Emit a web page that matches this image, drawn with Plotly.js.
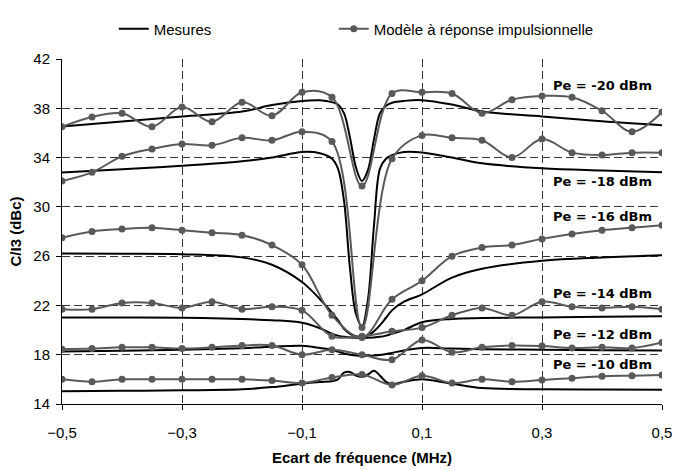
<!DOCTYPE html>
<html>
<head>
<meta charset="utf-8">
<script src="https://cdn.plot.ly/plotly-3.0.1.min.js"></script>
<style>html,body{margin:0;padding:0;background:#fff;}#chart{width:674px;height:470px;}</style>
</head>
<body>
<div id="chart"></div>
<script>
// Model ("Modèle à réponse impulsionnelle") sampled every 0.05 MHz
var xModel = [-0.5,-0.45,-0.4,-0.35,-0.3,-0.25,-0.2,-0.15,-0.1,-0.05,0,0.05,0.1,0.15,0.2,0.25,0.3,0.35,0.4,0.45,0.5];
var model20 = [36.5,37.3,37.6,36.5,38.1,36.9,38.5,37.4,39.3,38.9,31.7,39.2,39.3,39.2,37.6,38.7,39.0,38.9,37.8,36.1,37.7];
var model18 = [32.1,32.8,34.1,34.7,35.1,35.0,35.6,35.4,36.1,35.3,20.2,33.9,35.8,35.6,35.4,34.0,35.5,34.4,34.2,34.4,34.4];
var model16 = [27.5,28.0,28.2,28.3,28.1,27.9,27.7,26.9,25.3,21.2,19.4,22.5,24.0,26.0,26.7,26.9,27.4,27.8,28.1,28.3,28.5];
var model14 = [21.7,21.7,22.2,22.2,21.8,22.3,21.7,21.9,21.6,19.5,19.5,19.9,20.2,21.2,21.8,21.2,22.3,21.9,21.8,21.9,21.7];
var model12 = [18.45,18.5,18.6,18.6,18.5,18.6,18.75,18.75,18.0,18.4,18.0,17.6,19.2,18.2,18.6,18.75,18.7,18.55,18.6,18.55,19.0];
var model10 = [16.0,15.8,16.0,16.0,16.0,16.0,16.0,15.9,15.7,16.15,16.4,15.55,16.3,15.7,16.0,15.8,15.95,16.1,16.25,16.3,16.35];

// Measurements ("Mesures")
var xMeas = [-0.5,-0.4,-0.3,-0.2,-0.15,-0.1,-0.07,-0.05,-0.04,-0.03,-0.02,-0.01,0,0.01,0.02,0.03,0.04,0.05,0.07,0.1,0.15,0.2,0.3,0.4,0.5];
var meas20 = [36.52,36.92,37.34,37.74,38.26,38.6,38.65,38.5,38.3,37.6,35.6,33.2,32.1,33.0,35.5,37.6,38.2,38.45,38.6,38.66,38.3,37.74,37.34,36.95,36.63];
var meas18 = [32.79,33.05,33.34,33.71,34.0,34.45,34.35,33.9,33.1,30.5,25.0,21.3,20.3,22.5,28.5,33.1,33.9,34.2,34.45,34.42,34.0,33.53,33.13,32.95,32.81];
var meas16 = [26.21,26.2,26.16,25.9,25.3,23.9,22.5,21.4,20.8,20.1,19.7,19.5,19.45,19.55,19.9,20.4,21.0,21.6,22.3,22.9,24.26,24.98,25.63,25.9,26.08];
var meas14 = [21.03,21.02,21.0,20.9,20.8,20.6,20.15,19.7,19.55,19.45,19.4,19.38,19.37,19.38,19.4,19.45,19.55,19.7,20.0,20.63,20.9,20.97,21.03,21.08,21.13];
var meas12 = [18.27,18.33,18.4,18.53,18.65,18.72,18.55,18.4,18.25,18.1,18.0,17.93,17.9,17.9,17.93,17.98,18.05,18.15,18.35,18.55,18.5,18.45,18.4,18.37,18.35];
var meas10 = [15.03,15.07,15.11,15.19,15.37,15.65,15.78,15.85,16.0,16.55,16.6,16.3,16.2,16.4,16.7,16.3,15.8,15.6,15.8,16.0,15.64,15.29,15.19,15.17,15.16];

var seriesNames = ['Mesures', 'Modèle à réponse impulsionnelle'];
var powerLabels = ['Pe = -20 dBm','Pe = -18 dBm','Pe = -16 dBm','Pe = -14 dBm','Pe = -12 dBm','Pe = -10 dBm'];
var labelLevels = [39.84, 32.08, 29.24, 23.0, 19.67, 17.22];

var measSets = [meas20, meas18, meas16, meas14, meas12, meas10];
var modelSets = [model20, model18, model16, model14, model12, model10];

var traces = [];
measSets.forEach(function(ys, i){
  traces.push({
    x: xMeas, y: ys, type: 'scatter', mode: 'lines',
    name: seriesNames[0], legendgroup: 'meas', showlegend: i === 0,
    legendwidth: 175,
    line: {color: '#000000', width: 2, shape: 'spline', smoothing: 1}
  });
});
modelSets.forEach(function(ys, i){
  traces.push({
    x: xModel, y: ys, type: 'scatter', mode: 'lines+markers',
    name: seriesNames[1], legendgroup: 'model', showlegend: i === 0,
    legendwidth: 260,
    line: {color: '#595959', width: 2, shape: 'spline', smoothing: 1},
    marker: {color: '#595959', size: 7}
  });
});

var annotations = powerLabels.map(function(t, i){
  return {
    text: '<b>' + t + '</b>', x: 0.487, y: labelLevels[i], xref: 'x', yref: 'y',
    xanchor: 'right', yanchor: 'middle', showarrow: false,
    font: {family: 'DejaVu Sans', size: 13, color: '#000'}
  };
});

var axisFont = {family: 'Liberation Sans, Arial, sans-serif', size: 15, color: '#000'};
var layout = {
  width: 674, height: 470,
  margin: {l: 62, r: 12, t: 49, b: 66},
  paper_bgcolor: '#fff', plot_bgcolor: '#fff',
  separators: ', ',
  showlegend: true,
  legend: {orientation: 'h', x: 0.0863, xanchor: 'left', y: 1.087, yanchor: 'middle',
           font: axisFont, traceorder: 'normal', bgcolor: 'rgba(0,0,0,0)'},
  font: axisFont,
  xaxis: {
    range: [-0.5, 0.5], tick0: -0.5, dtick: 0.2, tickformat: '.1f',
    showline: true, linecolor: '#000', linewidth: 1,
    ticks: 'outside', ticklen: 5, tickcolor: '#000', ticklabelstandoff: 10,
    showgrid: true, gridcolor: '#333', gridwidth: 1, griddash: '8px,4px',
    zeroline: false, tickfont: axisFont,
    title: {text: '<b>Ecart de fréquence (MHz)</b>', font: axisFont, standoff: 12}
  },
  yaxis: {
    range: [14, 42], tick0: 14, dtick: 4,
    showline: true, linecolor: '#000', linewidth: 1,
    ticks: 'outside', ticklen: 5, tickcolor: '#000', ticklabelstandoff: 3,
    showgrid: true, gridcolor: '#333', gridwidth: 1, griddash: '8px,4px',
    zeroline: false, tickfont: axisFont,
    title: {text: '<b>C/I3 (dBc)</b>', font: axisFont, standoff: 8}
  },
  annotations: annotations
};

Plotly.newPlot('chart', traces, layout, {displayModeBar: false, staticPlot: true});
</script>
</body>
</html>
